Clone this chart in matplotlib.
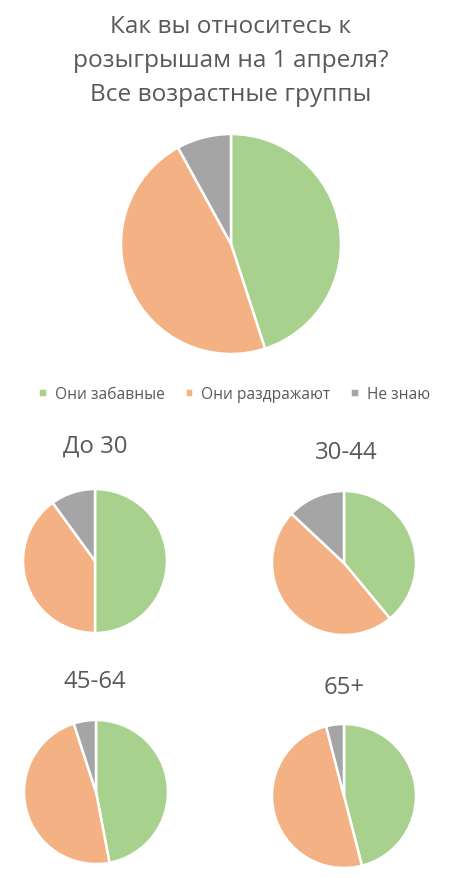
import matplotlib
matplotlib.use("Agg")
import matplotlib.pyplot as plt

plt.rcParams['font.family'] = ['Open Sans', 'DejaVu Sans']

W, H = 459, 879
categories = ["Они забавные", "Они раздражают", "Не знаю"]
colors = ["#A9D18E", "#F4B183", "#A5A5A5"]

title_lines = "Как вы относитесь к\nрозыгрышам на 1 апреля?\nВсе возрастные группы"
all_ages = [45, 47, 8]

group_names = ["До 30", "30-44", "45-64", "65+"]
group_values = [
    [50, 40, 10],
    [39, 48, 13],
    [47, 48, 5],
    [46, 50, 4],
]

fig = plt.figure(figsize=(W / 100, H / 100), dpi=100)
TEXT = "#595959"

def pie_axes(cx, cy, r):
    ax = fig.add_axes([(cx - r) / W, 1 - (cy + r) / H, 2 * r / W, 2 * r / H])
    return ax

def finish(ax):
    ax.set_xlim(-1, 1)
    ax.set_ylim(-1, 1)
    ax.set_aspect('equal')
    ax.axis('off')

# main title
fig.text(231 / W, 1 - 61 / H, title_lines, ha='center', va='center',
         fontsize=17.6, color=TEXT, linespacing=1.55)

ax = pie_axes(231, 245, 110)
wedges, _ = ax.pie(all_ages, colors=colors, startangle=90, counterclock=False,
                   radius=1, wedgeprops=dict(edgecolor='white', linewidth=1.8))
finish(ax)

fig.legend(wedges, categories, loc='center', bbox_to_anchor=(234 / W, 1 - 395 / H),
           ncol=3, frameon=False, fontsize=11.2, labelcolor=TEXT,
           handlelength=0.55, handleheight=0.55, handletextpad=0.5,
           columnspacing=1.3)

centers = [(95, 562), (344, 564), (96, 793), (344, 797)]
title_pos = [(95, 447), (346, 453), (95, 682), (344, 688)]
for name, vals, (cx, cy), (tx, ty) in zip(group_names, group_values, centers, title_pos):
    a = pie_axes(cx, cy, 72)
    a.pie(vals, colors=colors, startangle=90, counterclock=False, radius=1,
          wedgeprops=dict(edgecolor='white', linewidth=1.8))
    finish(a)
    fig.text(tx / W, 1 - ty / H, name, ha='center', va='center',
             fontsize=17.3, color=TEXT)

fig.savefig("out.png", dpi=100, facecolor='white')
